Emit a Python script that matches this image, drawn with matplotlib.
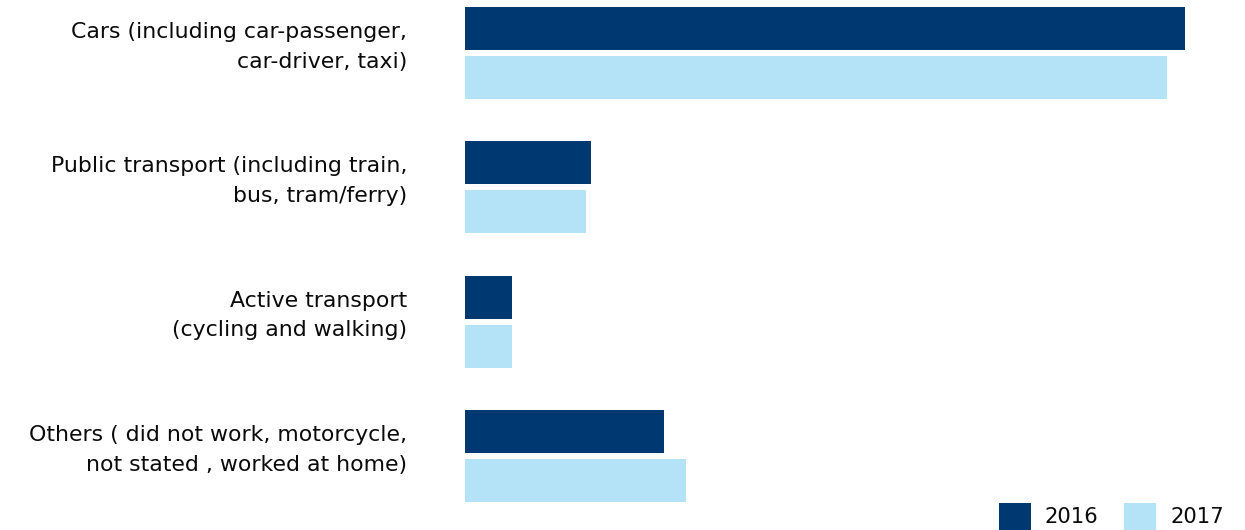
import numpy as np
import matplotlib
matplotlib.use("Agg")
import matplotlib.pyplot as plt
from matplotlib.patches import Rectangle

# Share of commuters by mode of travel (%)
categories = [
    "Cars (including car-passenger,\ncar-driver, taxi)",
    "Public transport (including train,\nbus, tram/ferry)",
    "Active transport\n(cycling and walking)",
    "Others ( did not work, motorcycle,\nnot stated , worked at home)",
]
values_2016 = [65.9, 11.5, 4.3, 18.2]
values_2017 = [64.3, 11.1, 4.3, 20.2]
series_labels = ["2016", "2017"]

DARK = "#003872"
LIGHT = "#b4e3f8"
colors = [DARK, LIGHT]

W, H = 1245, 530
plt.rcParams["font.family"] = ["DejaVu Sans"]
fig = plt.figure(figsize=(W / 100, H / 100), dpi=100)

# axes spans from the bar baseline to the right edge, full height (pixel-like y units)
left_px = 465
ax = fig.add_axes([left_px / W, 0, 1 - left_px / W, 1])
px_per_pct = 10.92
ax.set_xlim(0, (W - left_px) / px_per_pct)
ax.set_ylim(H, 0)

pitch = 134.3
bar_h = 43
gap = 6
first = 7
idx = np.arange(len(categories))
y16 = first + idx * pitch + bar_h / 2
y17 = y16 + bar_h + gap

ax.barh(y16, values_2016, height=bar_h, color=DARK, label=series_labels[0])
ax.barh(y17, values_2017, height=bar_h, color=LIGHT, label=series_labels[1])

for i, cat in enumerate(categories):
    yc = (y16[i] + y17[i]) / 2 - 6
    fig.text(407 / W, 1 - yc / H, cat, ha="right", va="center",
             fontsize=15.8, linespacing=1.6, color="#0a0a0a")

ax.axis("off")

# legend: colour squares with year labels along the bottom edge
key_x = [999, 1124]
for x0, c, lab in zip(key_x, colors, series_labels):
    fig.patches.append(Rectangle((x0 / W, (H - 535) / H), 32 / W, 32 / H,
                                 transform=fig.transFigure, facecolor=c,
                                 edgecolor="none"))
    fig.text((x0 + 46) / W, 1 - 517 / H, lab, ha="left", va="center",
             fontsize=15.2, color="#0a0a0a")

fig.savefig("out.png", dpi=100)
